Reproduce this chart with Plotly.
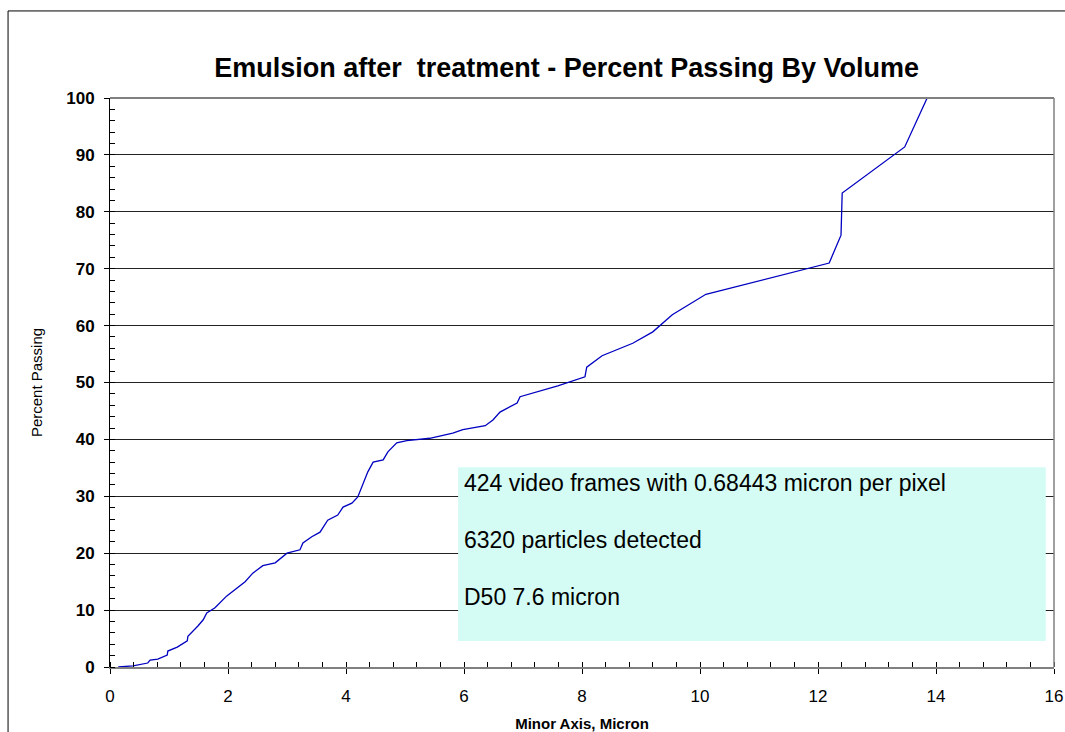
import plotly.graph_objects as go

# Curve: Minor axis (micron) vs cumulative percent passing
minor_axis = [0.14, 0.39, 0.64, 0.68, 0.81, 0.97, 0.98, 1.14, 1.31, 1.32, 1.49, 1.58, 1.64, 1.78,
              1.98, 2.29, 2.42, 2.59, 2.80, 3.00, 3.22, 3.27, 3.42, 3.56, 3.69, 3.86, 3.95, 4.10,
              4.20, 4.27, 4.37, 4.46, 4.63, 4.71, 4.86, 5.03, 5.42, 5.81, 5.98, 6.36, 6.49, 6.61,
              6.90, 6.95, 7.59, 8.05, 8.08, 8.34, 8.86, 9.20, 9.53, 10.10, 12.19, 12.39, 12.41,
              13.47, 13.85]
percent_passing = [0.0, 0.2, 0.7, 1.2, 1.4, 2.1, 2.8, 3.5, 4.6, 5.4, 7.2, 8.3, 9.5, 10.4,
                   12.5, 15.0, 16.5, 17.8, 18.3, 20.0, 20.6, 21.8, 22.9, 23.7, 25.8, 26.7, 28.1, 28.8,
                   29.9, 31.7, 34.3, 36.0, 36.4, 37.8, 39.4, 39.8, 40.2, 41.1, 41.7, 42.4, 43.4, 44.8,
                   46.4, 47.5, 49.4, 51.0, 52.7, 54.7, 56.9, 58.9, 61.9, 65.5, 71.0, 75.9, 83.3,
                   91.4, 100.0]

x_ticks = [0, 2, 4, 6, 8, 10, 12, 14, 16]
y_ticks = [0, 10, 20, 30, 40, 50, 60, 70, 80, 90, 100]

title_text = "Emulsion after  treatment - Percent Passing By Volume"
info_lines = ["424 video frames with 0.68443 micron per pixel",
              "6320 particles detected",
              "D50 7.6 micron"]
info_y = [32.3, 22.3, 12.3]

FONT = "Liberation Sans, Arial, sans-serif"

fig = go.Figure()
fig.add_trace(go.Scatter(x=minor_axis, y=percent_passing, mode="lines",
                         line=dict(color="#0000C0", width=1.3), showlegend=False))

fig.update_layout(
    width=1065, height=732,
    margin=dict(l=110, r=11, t=98, b=65, autoexpand=False),
    paper_bgcolor="white", plot_bgcolor="white",
    font=dict(family=FONT, color="black"),
    title=dict(text="<b>" + title_text + "</b>", x=0.532, xanchor="center",
               y=1 - 68 / 732, yanchor="middle", font=dict(size=27, family=FONT, color="black")),
    xaxis=dict(range=[0, 16], tickvals=x_ticks, ticktext=[str(v) for v in x_ticks],
               automargin=False,
               showgrid=False, zeroline=False, showline=True, linecolor="#808080", linewidth=2,
               ticks="outside", ticklen=5, tickcolor="black", tickwidth=1,
               ticklabelstandoff=8,
               minor=dict(dtick=0.4, ticks="inside", ticklen=5, tickcolor="black", showgrid=False),
               tickfont=dict(size=17, family=FONT), fixedrange=True,
               title=dict(text="<b>Minor Axis, Micron</b>", font=dict(size=15, family=FONT), standoff=23)),
    yaxis=dict(range=[0, 100], tickvals=y_ticks, ticktext=[str(v) for v in y_ticks],
               automargin=False,
               showgrid=True, gridcolor="#222222", gridwidth=1, zeroline=False,
               showline=True, linecolor="black", linewidth=1,
               ticks="outside", ticklen=5, tickcolor="black",
               ticklabelstandoff=6,
               minor=dict(dtick=2, ticks="inside", ticklen=5, tickcolor="black", showgrid=False),
               tickfont=dict(size=17, family=FONT, weight="bold"),
               fixedrange=True,
               title=dict(text="Percent Passing", font=dict(size=15, family=FONT), standoff=19)),
)

shapes = [
    # outer chart frame
    dict(type="rect", xref="paper", yref="paper", x0=-0.108, x1=1.02, y0=-0.14, y1=1.153,
         line=dict(color="black", width=1), fillcolor="rgba(0,0,0,0)", layer="below"),
    # plot area border (top / right)
    dict(type="line", xref="paper", yref="paper", x0=0, x1=1, y0=1, y1=1,
         line=dict(color="#808080", width=2)),
    dict(type="line", xref="paper", yref="paper", x0=1, x1=1, y0=0, y1=1,
         line=dict(color="#808080", width=1.5)),
    # info box
    dict(type="rect", xref="x", yref="y", x0=5.90, x1=15.86, y0=4.57, y1=35.1,
         line=dict(width=0), fillcolor="#D4FCF4", layer="above"),
]
fig.update_layout(shapes=shapes)

for txt, yy in zip(info_lines, info_y):
    fig.add_annotation(x=5.97, y=yy, xref="x", yref="y", text=txt, showarrow=False,
                       xanchor="left", yanchor="middle", font=dict(size=23, family=FONT, color="black"))

fig.write_html(
    "out.html",
    config={"displayModeBar": False},
    post_script="document.body.style.margin='0';document.body.style.overflow='hidden';",
)
